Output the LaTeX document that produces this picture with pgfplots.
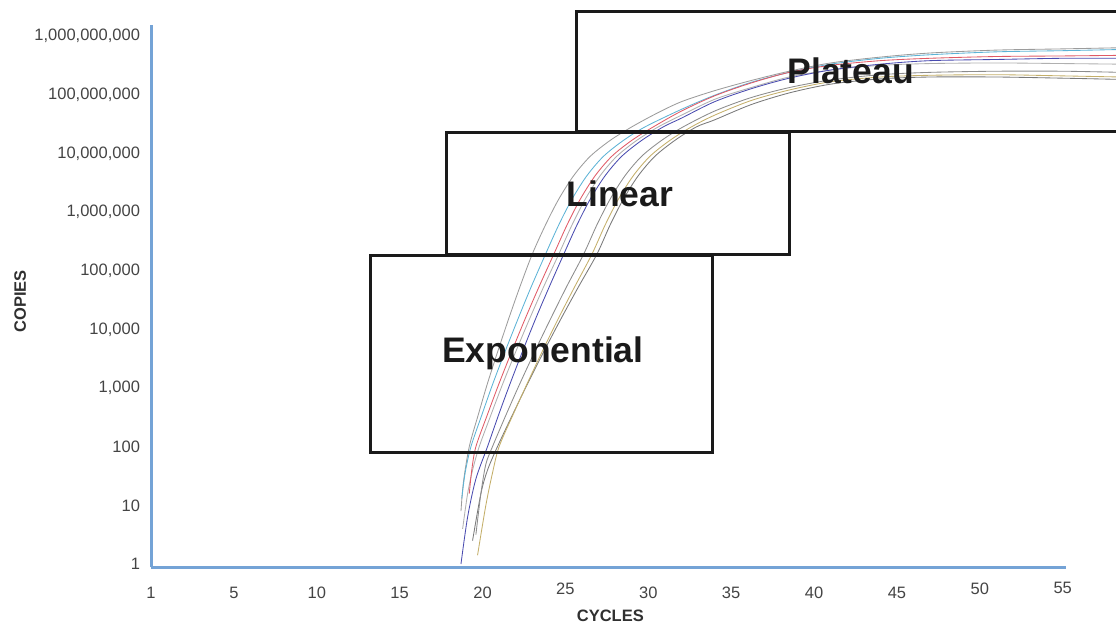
\documentclass[border=0pt]{standalone}
\usepackage{fontspec}
\setmainfont{Liberation Sans}
\usepackage{pgfplots}
\pgfplotsset{compat=1.18}
\definecolor{axblue}{HTML}{74A3D6}
\definecolor{tickgray}{HTML}{444444}
\definecolor{lblack}{HTML}{1A1A1A}
\definecolor{cred}{HTML}{E05A66}
\definecolor{ccyan}{HTML}{5DB3D6}
\definecolor{cblue}{HTML}{4A4CB0}
\definecolor{colive}{HTML}{C4AF6A}
\definecolor{cgA}{HTML}{9C9C9C}
\definecolor{cgB}{HTML}{B0B0B0}
\definecolor{cgC}{HTML}{8C8C8C}
\definecolor{cgD}{HTML}{7A7A7A}
\begin{document}
\begin{tikzpicture}
\useasboundingbox (0,0) rectangle (1116pt,627pt);
\begin{axis}[
  at={(151pt,60pt)}, anchor=south west,
  scale only axis, width=915pt, height=542pt,
  xmin=0, xmax=55.2, ymode=log, ymin=0.889, ymax=1.54e9,
  axis lines*=left,
  axis line style={-, draw=axblue, line width=3pt},
  major tick length=0pt, minor tick length=0pt,
  yminorticks=false, xminorticks=false,
  clip=false,
  /pgf/number format/assume math mode=true,
  xtick={0,5,10,15,20,30,35,40,45},
  xticklabels={1,5,10,15,20,30,35,40,45},
  extra x ticks={25,50,55},
  extra x tick labels={25,50,55},
  extra x tick style={major tick length=0pt, tick label style={yshift=4.5pt}},
  ytick={1,10,100,1000,10000,100000,1000000,10000000,100000000,1000000000},
  yticklabels={{1\hspace{11pt}},{10\hspace{9pt}},{100\hspace{7pt}},{1,000\hspace{5pt}},{10,000\hspace{4pt}},{100,000\hspace{3pt}},{1,000,000\hspace{1pt}},{10,000,000\hspace{1pt}},{100,000,000},{1,000,000,000}},
  tick label style={font=\fontsize{16.5}{18}\selectfont, text=tickgray},
  xticklabel style={yshift=-16.5pt},
  yticklabel style={xshift=-7.5pt},
  xlabel={CYCLES}, ylabel={COPIES},
  xlabel style={at={(axis description cs:0.502,-0.0906)}, anchor=center, font=\fontsize{16.5}{18}\selectfont\bfseries, text=tickgray!70!black},
  ylabel style={at={(axis description cs:-0.143,0.49)}, anchor=center, font=\fontsize{16.5}{18}\selectfont\bfseries, text=tickgray!70!black},
  every axis plot/.append style={line width=0.85pt, smooth, no markers},
]
% G4 dark gray
\addplot[cgD] coordinates {(19.4,2.51) (19.9,15.8) (20.3,39.8) (20.9,1.0e2) (21.82,3.55e2) (22.73,1.20e3) (23.75,4.47e3) (24.77,1.58e4) (25.78,5.25e4) (26.9,1.91e5) (27.7,6.03e5) (28.5,1.66e6) (29.4,4.17e6) (30.4,8.91e6) (31.6,1.66e7) (32.9,2.82e7) (34.0,3.72e7) (36.2,6.76e7) (38.5,1.07e8) (41,1.51e8) (44,1.86e8) (47,2.0e8) (51,2.0e8) (55,1.91e8) (58.5,1.82e8)};
% olive
\addplot[colive] coordinates {(19.7,1.41) (20.2,10) (20.6,35.5) (21.0,1.0e2) (21.85,3.55e2) (22.7,1.20e3) (23.65,4.47e3) (24.6,1.58e4) (25.55,5.25e4) (26.6,1.91e5) (27.4,6.03e5) (28.2,1.66e6) (29.1,4.17e6) (30.1,8.91e6) (31.3,1.66e7) (32.6,2.82e7) (34.0,4.47e7) (36.2,7.94e7) (38.5,1.20e8) (41,1.66e8) (44,2.0e8) (47,2.14e8) (51,2.19e8) (55,2.09e8) (58.5,2.0e8)};
% G3 gray
\addplot[cgC] coordinates {(19.6,3.16) (19.9,15.8) (20.2,50.1) (20.6,1.0e2) (21.43,3.55e2) (22.26,1.20e3) (23.2,4.47e3) (24.14,1.58e4) (25.06,5.25e4) (26.1,1.91e5) (26.9,6.03e5) (27.7,1.66e6) (28.6,4.17e6) (29.6,8.91e6) (30.8,1.66e7) (32.1,2.82e7) (34.0,5.25e7) (36.2,8.91e7) (38.5,1.32e8) (41,1.78e8) (44,2.19e8) (47,2.40e8) (51,2.51e8) (55,2.51e8) (58.5,2.40e8)};
% G2 light gray
\addplot[cgB] coordinates {(18.8,3.98) (19.1,15.8) (19.4,39.8) (19.8,1.0e2) (20.52,3.55e2) (21.23,1.20e3) (22.05,4.47e3) (22.87,1.58e4) (23.68,5.25e4) (24.6,1.91e5) (25.4,6.03e5) (26.2,1.66e6) (27.1,4.17e6) (28.1,8.91e6) (29.3,1.66e7) (30.6,2.82e7) (32.0,4.47e7) (34.0,8.32e7) (36.2,1.32e8) (38.5,2.0e8) (41,2.63e8) (44,3.16e8) (47,3.39e8) (51,3.47e8) (55,3.39e8) (58.5,3.31e8)};
% blue
\addplot[cblue] coordinates {(18.7,1.0) (19.1,6.31) (19.6,28.2) (20.3,1.0e2) (20.98,3.55e2) (21.67,1.20e3) (22.45,4.47e3) (23.23,1.58e4) (24.02,5.25e4) (24.9,1.91e5) (25.7,6.03e5) (26.5,1.66e6) (27.4,4.17e6) (28.4,8.91e6) (29.6,1.66e7) (30.9,2.82e7) (32.0,3.98e7) (34.0,7.59e7) (36.2,1.26e8) (38.5,1.91e8) (41,2.63e8) (44,3.31e8) (47,3.80e8) (51,3.98e8) (55,4.17e8) (58.5,4.17e8)};
% G1 outer gray
\addplot[cgA] coordinates {(18.7,7.94) (18.85,25.1) (19.2,1.0e2) (19.75,3.55e2) (20.3,1.20e3) (20.95,4.47e3) (21.6,1.58e4) (22.25,5.25e4) (23.0,1.91e5) (23.8,6.03e5) (24.6,1.66e6) (25.5,4.17e6) (26.5,8.91e6) (27.7,1.66e7) (29.0,2.82e7) (30.5,4.79e7) (32.0,7.59e7) (34.0,1.17e8) (36.2,1.74e8) (38.5,2.51e8) (41,3.47e8) (44,4.37e8) (47,5.13e8) (51,5.75e8) (55,6.03e8) (58.5,6.31e8)};
% cyan
\addplot[ccyan] coordinates {(18.75,13.2) (18.95,35.5) (19.3,1.0e2) (19.97,3.55e2) (20.63,1.20e3) (21.4,4.47e3) (22.17,1.58e4) (22.93,5.25e4) (23.8,1.91e5) (24.6,6.03e5) (25.4,1.66e6) (26.3,4.17e6) (27.3,8.91e6) (28.5,1.66e7) (29.8,2.82e7) (32.0,5.62e7) (34.0,9.77e7) (36.2,1.62e8) (38.5,2.40e8) (41,3.31e8) (44,4.17e8) (47,4.79e8) (51,5.37e8) (55,5.62e8) (58.5,5.89e8)};
% red
\addplot[cred] coordinates {(19.2,15.8) (19.35,39.8) (19.6,1.0e2) (20.3,3.55e2) (21.0,1.20e3) (21.8,4.47e3) (22.6,1.58e4) (23.4,5.25e4) (24.3,1.91e5) (25.1,6.03e5) (25.9,1.66e6) (26.8,4.17e6) (27.8,8.91e6) (29.0,1.66e7) (30.3,2.82e7) (32.0,5.25e7) (34.0,9.55e7) (36.2,1.58e8) (38.5,2.40e8) (41,3.16e8) (44,3.80e8) (47,4.17e8) (51,4.47e8) (55,4.57e8) (58.5,4.68e8)};
% phase boxes
\draw[line width=3pt, lblack] (axis cs:13.27,81) rectangle (axis cs:33.9,1.78e5);
\draw[line width=3pt, lblack] (axis cs:17.85,1.91e5) rectangle (axis cs:38.54,2.23e7);
\draw[line width=3pt, lblack] (axis cs:60,2.4e7) -- (axis cs:25.69,2.4e7) -- (axis cs:25.69,2.57e9) -- (axis cs:60,2.57e9);
\node[anchor=base, font=\fontsize{35.5}{40}\selectfont\bfseries, text=lblack] at (axis cs:23.64,2.77e3) {Exponential};
\node[anchor=base, font=\fontsize{35.5}{40}\selectfont\bfseries, text=lblack] at (axis cs:28.29,1.26e6) {Linear};
\node[anchor=base, font=\fontsize{35.5}{40}\selectfont\bfseries, text=lblack] at (axis cs:42.22,1.58e8) {Plateau};
\end{axis}
\end{tikzpicture}
\end{document}
